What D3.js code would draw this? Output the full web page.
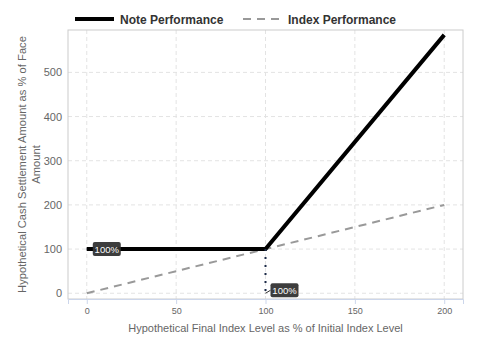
<!DOCTYPE html>
<html>
<head>
<meta charset="utf-8">
<script src="https://cdn.jsdelivr.net/npm/d3@7"></script>
<style>
  body { margin: 0; background: #fff; }
  text { font-family: Arial, "Liberation Sans", sans-serif; }
</style>
</head>
<body>
<div id="chart"></div>
<script>
// data
const indexLevels = [0, 100, 200];
const notePerformance = [100, 100, 585];
const indexPerformance = [0, 100, 200];
const xTicks = [0, 50, 100, 150, 200];
const yTicks = [0, 100, 200, 300, 400, 500];
const seriesNames = ["Note Performance", "Index Performance"];

const W = 480, H = 360;
const margin = { top: 30, right: 17, bottom: 61, left: 68 },
  width = W - margin.left - margin.right,
  height = H - margin.top - margin.bottom;

const svgRoot = d3.select("#chart").append("svg")
  .attr("width", W).attr("height", H);

const svg = svgRoot.append("g")
  .attr("transform", `translate(${margin.left},${margin.top})`);

const x = d3.scaleLinear().domain([-10.5, 210.5]).range([0, width]);
const y = d3.scaleLinear().domain([-13, 596]).range([height, 0]);

// grid
svg.append("g").selectAll("line").data(xTicks).enter().append("line")
  .attr("x1", d => x(d)).attr("x2", d => x(d))
  .attr("y1", 0).attr("y2", height)
  .attr("stroke", "#e3e3e3").attr("stroke-dasharray", "4,3");
svg.append("g").selectAll("line").data(yTicks).enter().append("line")
  .attr("y1", d => y(d)).attr("y2", d => y(d))
  .attr("x1", 0).attr("x2", width)
  .attr("stroke", "#e3e3e3").attr("stroke-dasharray", "4,3");

// plot border
svg.append("rect")
  .attr("width", width).attr("height", height)
  .attr("fill", "none").attr("stroke", "#cccccc");

// x axis
const xAxis = svg.append("g")
  .attr("transform", `translate(0,${height})`)
  .call(d3.axisBottom(x).tickValues(xTicks).tickSize(5).tickPadding(4));
xAxis.select(".domain").attr("stroke", "#ccd6eb");
xAxis.selectAll(".tick line").attr("stroke", "#ccd6eb");
xAxis.selectAll(".tick text").attr("fill", "#666").attr("font-size", "9px");

// y axis
const yAxis = svg.append("g")
  .call(d3.axisLeft(y).tickValues(yTicks).tickSize(0).tickPadding(6));
yAxis.select(".domain").remove();
yAxis.selectAll(".tick text").attr("fill", "#666").attr("font-size", "11px");

// axis titles
svgRoot.append("text")
  .attr("x", margin.left + width / 2).attr("y", 332)
  .attr("text-anchor", "middle").attr("fill", "#666").attr("font-size", "11px")
  .text("Hypothetical Final Index Level as % of Initial Index Level");

const yTitle = svgRoot.append("text")
  .attr("transform", `translate(26,${margin.top + height / 2}) rotate(-90)`)
  .attr("text-anchor", "middle").attr("fill", "#666").attr("font-size", "11.2px");
yTitle.append("tspan").attr("x", 0).attr("dy", 0)
  .text("Hypothetical Cash Settlement Amount as % of Face");
yTitle.append("tspan").attr("x", 0).attr("dy", 13.5).text("Amount");

// dotted reference lines
svg.append("line")
  .attr("x1", x(indexLevels[0])).attr("x2", x(indexLevels[1]))
  .attr("y1", y(notePerformance[0])).attr("y2", y(notePerformance[1]))
  .attr("stroke", "#1c2a48").attr("stroke-width", 2).attr("stroke-dasharray", "2,6");

// lines
const line = d3.line().x(d => x(d[0])).y(d => y(d[1]));

svg.append("path")
  .datum(indexLevels.map((v, i) => [v, indexPerformance[i]]))
  .attr("d", line).attr("fill", "none")
  .attr("stroke", "#999").attr("stroke-width", 2).attr("stroke-dasharray", "8,6");

svg.append("path")
  .datum(indexLevels.map((v, i) => [v, notePerformance[i]]))
  .attr("d", line).attr("fill", "none")
  .attr("stroke", "#000").attr("stroke-width", 4);

svg.append("line")
  .attr("x1", x(indexLevels[1])).attr("x2", x(indexLevels[1]))
  .attr("y1", y(notePerformance[1])).attr("y2", y(0))
  .attr("stroke", "#1c2a48").attr("stroke-width", 2).attr("stroke-dasharray", "2,6");

// labels
function label(px, py, txt) {
  const g = svg.append("g").attr("transform", `translate(${px},${py})`);
  g.append("rect").attr("x", 0).attr("y", -7).attr("width", 28).attr("height", 14)
    .attr("rx", 2).attr("fill", "#333").attr("fill-opacity", 0.95);
  g.append("text").attr("x", 14).attr("y", 3.5).attr("text-anchor", "middle")
    .attr("fill", "#fff").attr("font-size", "9.5px").text(txt);
}
label(x(0) + 6, y(100), "100%");
svg.append("line")
  .attr("x1", x(100)).attr("y1", y(0))
  .attr("x2", x(100) + 5).attr("y2", y(0) - 3)
  .attr("stroke", "#333");
label(x(100) + 5, y(0) - 3, "100%");

// legend
const legend = svgRoot.append("g").attr("transform", "translate(0,19)");
legend.append("line").attr("x1", 75).attr("x2", 114).attr("y1", 0).attr("y2", 0)
  .attr("stroke", "#000").attr("stroke-width", 4);
legend.append("text").attr("x", 120).attr("y", 4.5)
  .attr("font-size", "12px").attr("font-weight", "bold").attr("fill", "#333")
  .text(seriesNames[0]);
legend.append("line").attr("x1", 243).attr("x2", 281).attr("y1", 0).attr("y2", 0)
  .attr("stroke", "#999").attr("stroke-width", 2).attr("stroke-dasharray", "8,6");
legend.append("text").attr("x", 288).attr("y", 4.5)
  .attr("font-size", "12px").attr("font-weight", "bold").attr("fill", "#333")
  .text(seriesNames[1]);
</script>
</body>
</html>
